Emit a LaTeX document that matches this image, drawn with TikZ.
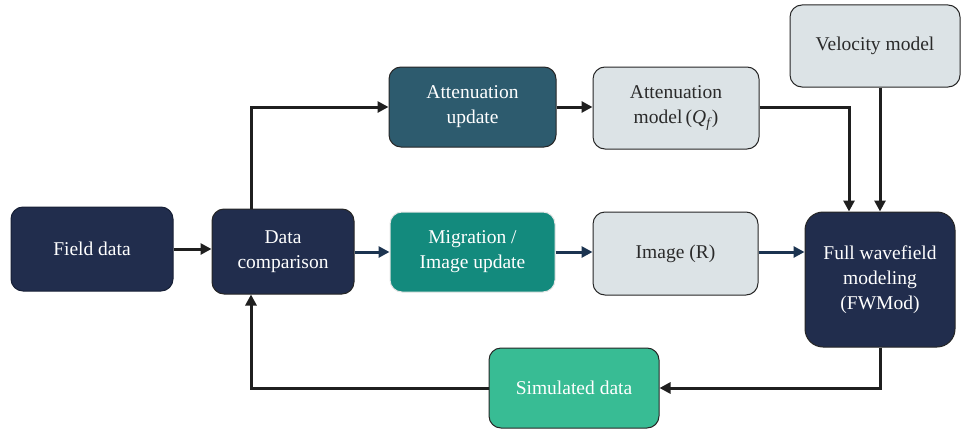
\documentclass[tikz,border=0pt]{standalone}
\usepackage{fontspec}
\setmainfont{Liberation Serif}
\newfontfamily\tnr{Liberation Serif}
\usetikzlibrary{arrows.meta,positioning}
\definecolor{navy}{HTML}{212D4D}
\definecolor{teal1}{HTML}{2D5B6E}
\definecolor{teal2}{HTML}{138A7D}
\definecolor{lightg}{HTML}{DCE3E6}
\definecolor{mint}{HTML}{38BC94}
\definecolor{arrnavy}{HTML}{1B3350}
\definecolor{txtdark}{HTML}{2A2A2A}
\begin{document}
\begin{tikzpicture}[x=1pt,y=-1pt,
  box/.style={rectangle, rounded corners=12pt, draw=black!85, line width=1pt, align=center,
    font=\tnr\fontsize{19.5}{25}\selectfont, inner sep=2pt},
  darkbox/.style={box, text=white},
  lightbox/.style={box, fill=lightg, text=txtdark},
  arr/.style={line width=3pt, draw=black!88, -{Triangle[length=11pt,width=11pt]}},
  arrb/.style={line width=3pt, draw=arrnavy, -{Triangle[length=11pt,width=11pt]}}]
\useasboundingbox (0,0) rectangle (965,436);
\node[darkbox, fill=navy, draw=navy!70!black, minimum width=162pt, minimum height=84pt] (fd) at (92,249) {Field data};
\node[darkbox, fill=navy, minimum width=142pt, minimum height=85pt] (dc) at (283,251.5) {Data\\comparison};
\node[darkbox, fill=teal1, minimum width=167pt, minimum height=80pt] (au) at (472.5,107) {Attenuation\\update};
\node[lightbox, minimum width=166pt, minimum height=82pt] (am) at (676,108) {Attenuation\\model\,(\textit{Q}\raisebox{-0.35ex}{\fontsize{14}{14}\selectfont\textit{f}})};
\node[darkbox, fill=teal2, draw=black!10, minimum width=165pt, minimum height=80pt] (mi) at (472.5,252) {Migration /\\Image update};
\node[lightbox, minimum width=165pt, minimum height=83pt] (im) at (675.5,253.5) {Image (R)};
\node[lightbox, minimum width=170pt, minimum height=82pt] (vm) at (875,46) {Velocity model};
\node[darkbox, fill=navy, rounded corners=18pt, minimum width=150pt, minimum height=135pt] (fw) at (880,279.5) {Full wavefield\\modeling\\(FWMod)};
\node[darkbox, fill=mint, minimum width=170pt, minimum height=80pt] (sd) at (574,388) {Simulated data};
% connectors
\draw[arr] (fd.east |- 0,249) -- (dc.west |- 0,249);
\draw[arr] ([xshift=-32pt]dc.north) |- (au.west);
\draw[arr] (au.east) -- (am.west |- au.east);
\draw[arr] (am.east |- au.east) -| ([xshift=-31pt]fw.north);
\draw[arr] (vm.south -| fw.north) -- (fw.north);
\draw[arrb] (dc.east |- mi.west) -- (mi.west);
\draw[arrb] (mi.east) -- (im.west |- mi.east);
\draw[arrb] (im.east |- mi.east) -- (fw.west |- mi.east);
\draw[arr] (fw.south) |- (sd.east);
\draw[arr] (sd.west) -| ([xshift=-32pt]dc.south);
\end{tikzpicture}
\end{document}
